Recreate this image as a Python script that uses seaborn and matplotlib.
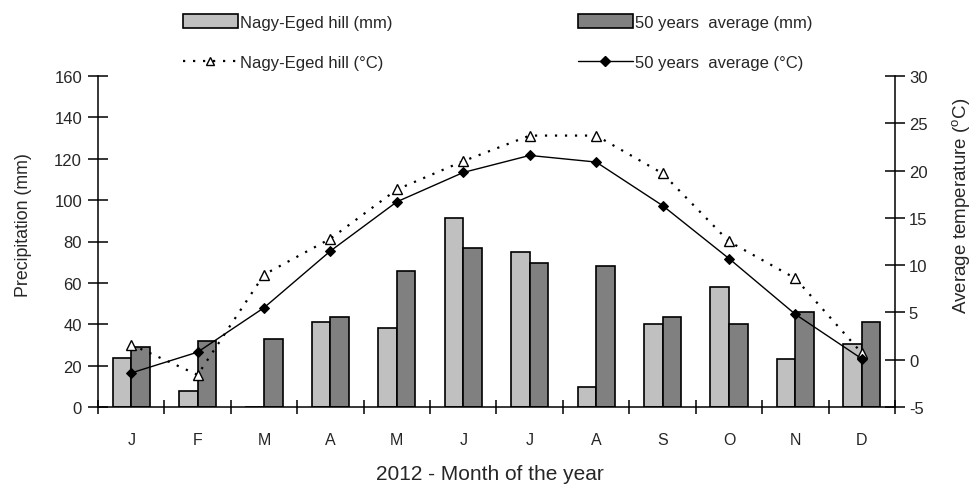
import numpy as np
import pandas as pd
import matplotlib
matplotlib.use("Agg")
import matplotlib.pyplot as plt
from matplotlib.patches import Patch
from matplotlib.lines import Line2D
import seaborn as sns

months = ["J", "F", "M", "A", "M", "J", "J", "A", "S", "O", "N", "D"]
precip_site = [23.5, 7.7, 0.0, 41.0, 38.0, 91.5, 74.7, 9.8, 40.2, 58.0, 23.4, 30.6]
precip_avg = [28.9, 32.0, 33.0, 43.5, 65.8, 77.0, 69.8, 68.1, 43.5, 40.1, 45.9, 41.1]
temp_site = [1.6, -1.6, 9.0, 12.8, 18.0, 21.0, 23.7, 23.7, 19.7, 12.5, 8.6, 0.7]
temp_avg = [-1.4, 0.8, 5.5, 11.5, 16.7, 19.8, 21.6, 20.9, 16.3, 10.7, 4.8, 0.1]

label_site_mm = "Nagy-Eged hill (mm)"
label_avg_mm = "50 years  average (mm)"
label_site_c = "Nagy-Eged hill (°C)"
label_avg_c = "50 years  average (°C)"

sns.set_theme(style="white")
plt.rcParams["font.family"] = ["Liberation Sans", "DejaVu Sans"]
plt.rcParams["axes.unicode_minus"] = False

light, dark = "#c0c0c0", "#808080"
dots = (0, (1, 3.5))

idx = np.arange(len(months))
df = pd.DataFrame({
    "pos": np.concatenate([idx, idx]),
    "mm": precip_site + precip_avg,
    "series": [label_site_mm] * 12 + [label_avg_mm] * 12,
})

fig = plt.figure(figsize=(9.79, 4.89), dpi=100)
ax = fig.add_axes([98 / 979, 1 - 408 / 489, (895 - 98) / 979, (408 - 77) / 489])

# monthly precipitation bars
sns.barplot(data=df, x="pos", y="mm", hue="series",
            hue_order=[label_site_mm, label_avg_mm],
            palette=[light, dark], width=0.56, gap=0,
            edgecolor="black", linewidth=1.2, saturation=1,
            legend=False, ax=ax)

ax.set_xlim(-0.5, 11.5)
ax.set_ylim(0, 160)
ax.set_yticks(np.arange(0, 161, 20))
ax.set_xticks(idx)
ax.set_xticklabels(months, fontsize=11.5)
ax.set_xticks(np.arange(-0.5, 12, 1), minor=True)
ax.tick_params(axis="x", which="major", length=0, pad=18)
ax.tick_params(axis="x", which="minor", length=10, width=1.1, direction="inout",
               color="black", bottom=True)
ax.tick_params(axis="y", length=15, width=1.1, direction="inout", color="black",
               labelsize=12, left=True, pad=4)
ax.set_xlabel("2012 - Month of the year", fontsize=15)
ax.xaxis.set_label_coords(0.492, -0.172)
ax.set_ylabel("Precipitation (mm)", fontsize=12.8)
ax.yaxis.set_label_coords(-0.083, 0.553)
for s in ["left", "bottom"]:
    ax.spines[s].set_color("black")
    ax.spines[s].set_linewidth(1.1)
ax.spines["top"].set_visible(False)
ax.spines["right"].set_visible(False)

# monthly mean temperature lines on the secondary axis
ax2 = ax.twinx()
sns.lineplot(x=idx, y=temp_site, ax=ax2, color="black", linestyle=dots,
             linewidth=1.6, marker="^", markersize=7, markerfacecolor="white",
             markeredgecolor="black", markeredgewidth=1.0)
sns.lineplot(x=idx, y=temp_avg, ax=ax2, color="black", linestyle="-",
             linewidth=1.0, marker="D", markersize=5, markerfacecolor="black",
             markeredgecolor="black")
ax2.set_ylim(-5, 30)
ax2.set_yticks(np.arange(-5, 31, 5))
ax2.tick_params(axis="y", length=14, width=1.1, direction="inout", color="black",
                labelsize=12, right=True, pad=3)
ax2.set_ylabel("Average temperature ($^{\\mathregular{o}}$C)", fontsize=13.5)
ax2.yaxis.set_label_coords(1.069, 0.610)
ax2.spines["right"].set_color("black")
ax2.spines["right"].set_linewidth(1.1)
ax2.spines["top"].set_visible(False)
for s in ["left", "bottom"]:
    ax2.spines[s].set_visible(False)

legend_kw = dict(loc="upper left", frameon=False, prop={"size": 12},
                 handlelength=3.3, handleheight=0.9, handletextpad=0.15,
                 labelspacing=1.5, borderpad=0, borderaxespad=0)
left_handles = [
    Patch(facecolor=light, edgecolor="black", linewidth=1.2, label=label_site_mm),
    Line2D([], [], color="black", linestyle=dots, linewidth=1.6, marker="^",
           markersize=6, markerfacecolor="white", markeredgecolor="black",
           label=label_site_c),
]
right_handles = [
    Patch(facecolor=dark, edgecolor="black", linewidth=1.2, label=label_avg_mm),
    Line2D([], [], color="black", linestyle="-", linewidth=1.0, marker="D",
           markersize=5, markerfacecolor="black", label=label_avg_c),
]
fig.legend(handles=left_handles, bbox_to_anchor=(183 / 979, 1 - 15 / 489), **legend_kw)
fig.legend(handles=right_handles, bbox_to_anchor=(578 / 979, 1 - 15 / 489), **legend_kw)

fig.savefig("out.png", dpi=100)
